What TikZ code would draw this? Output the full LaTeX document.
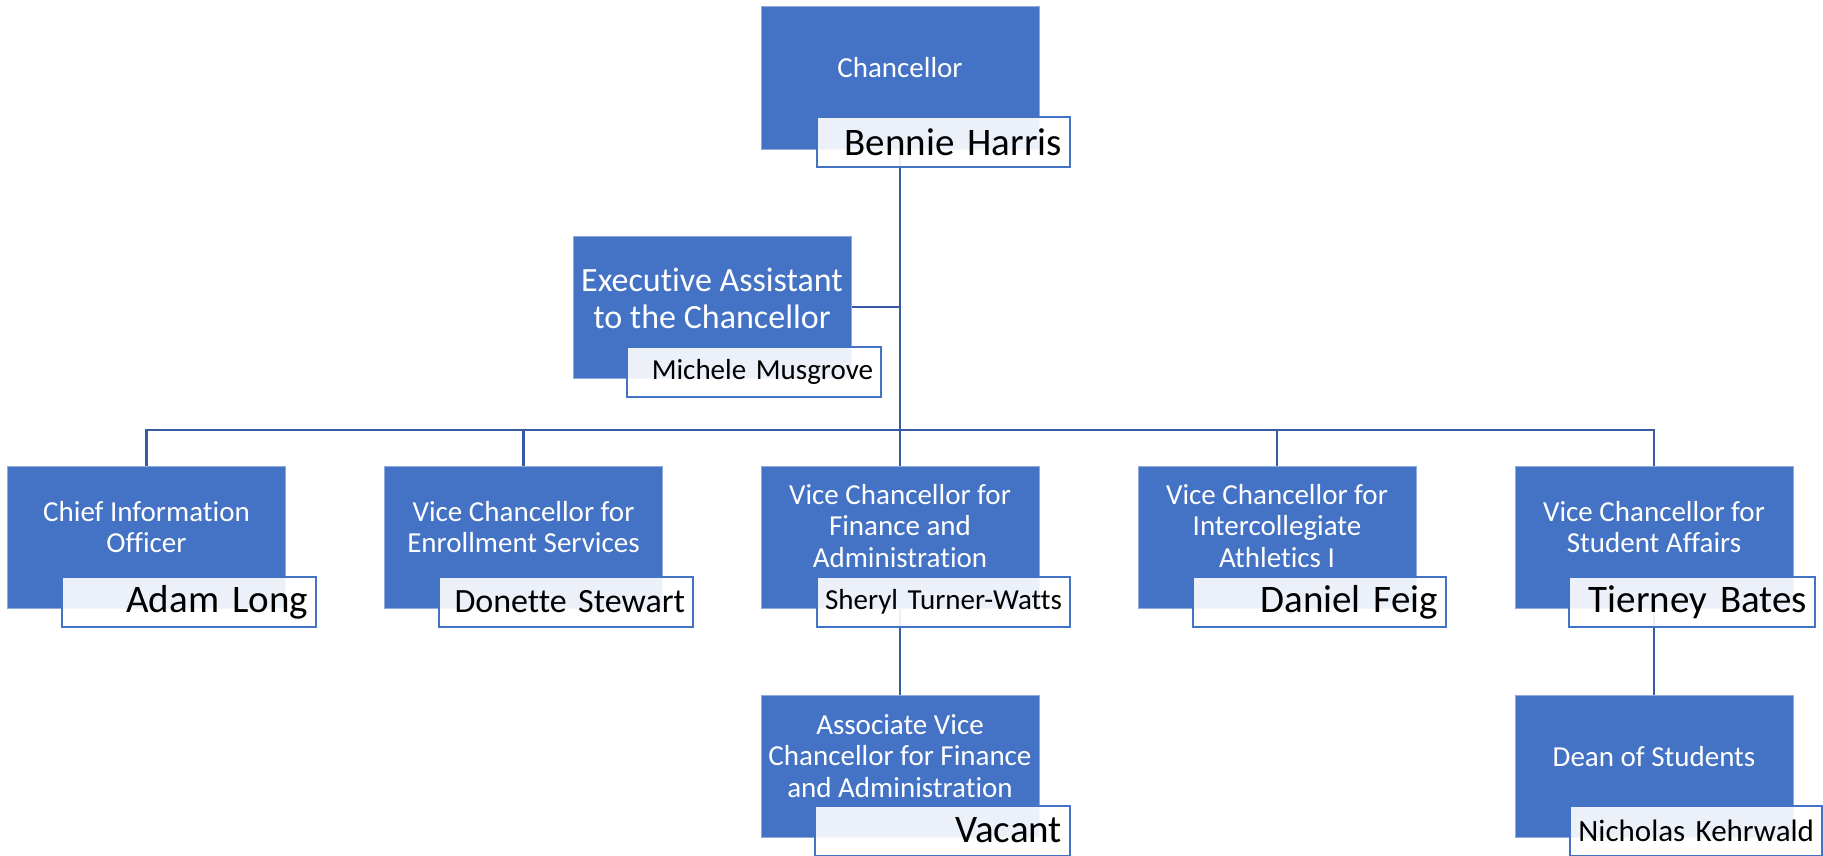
\documentclass[tikz,border=0pt]{standalone}
\usepackage{fontspec}
\setmainfont{Carlito}[Ligatures={NoCommon}]
\definecolor{unitblue}{RGB}{68,114,196}
\definecolor{linkblue}{RGB}{56,90,163}
\definecolor{unitedge}{RGB}{143,170,220}

\tikzset{every picture/.style={line width=0.75pt}}

\begin{document}
\begin{tikzpicture}[x=0.75pt,y=0.75pt,yscale=-1,xscale=1,
    unitbox/.style={draw=unitedge, fill=unitblue, minimum width=208.5pt, minimum height=106.5pt, inner sep=0pt},
    titletext/.style={text=white, align=center, inner sep=0.75pt, font=\fontsize{21.75pt}{23.6pt}\selectfont},
    namebox/.style={draw=unitblue, line width=1.5pt, fill=white, fill opacity=0.9, text opacity=1, text=black, minimum height=37.5pt, inner xsep=6pt, inner ysep=0pt, align=right, text width=#1, font=\fontsize{29.25pt}{31pt}\selectfont},
    link/.style={draw=linkblue, line width=2pt}]
        \useasboundingbox (0,0) rectangle (1823,856);

        %Shape: Rectangle [id:chancellor]
        \draw (900,78) node [unitbox] (chanbox) {};
        %Shape: Rectangle [id:assistant]
        \draw (712,307) node [unitbox] (exebox) {};
        %Shape: Rectangle [id:row2]
        \draw (146.5,537) node [unitbox] (ciobox) {};
        \draw (523.5,537) node [unitbox] (enrbox) {};
        \draw (900,537) node [unitbox] (finbox) {};
        \draw (1277,537) node [unitbox] (athbox) {};
        \draw (1654,537) node [unitbox] (stubox) {};
        %Shape: Rectangle [id:row3]
        \draw (900,766) node [unitbox] (avcbox) {};
        \draw (1654,766) node [unitbox] (deanbox) {};

        %Straight Lines [id:links]
        \coordinate (bus) at (900,430);
        \draw [link] (chanbox.south) -- (finbox.north);
        \draw [link] (exebox.east) -- (exebox.east -| chanbox.south);
        \draw [link] (ciobox.north) |- (bus) -| (stubox.north);
        \draw [link] (enrbox.north) -- (enrbox.north |- bus);
        \draw [link] (athbox.north) -- (athbox.north |- bus);
        \draw [link] (finbox.south) -- (avcbox.north);
        \draw [link] (stubox.south) -- (deanbox.north);

        % Text Node
        \draw (900,68) node [titletext] (chantitle) {Chancellor};
        % Text Node
        \draw (712,298) node [titletext, font=\fontsize{25.5pt}{27.75pt}\selectfont] (exetitle) {Executive Assistant\\to the Chancellor};
        % Text Node
        \draw (146.5,527) node [titletext] (ciotitle) {Chief Information\\Officer};
        % Text Node
        \draw (523.5,527) node [titletext] (enrtitle) {Vice Chancellor for\\Enrollment Services};
        % Text Node
        \draw (900,526) node [titletext] (fintitle) {Vice Chancellor for\\Finance and\\Administration};
        % Text Node
        \draw (1277,526) node [titletext] (athtitle) {Vice Chancellor for\\Intercollegiate\\Athletics I};
        % Text Node
        \draw (1654,527) node [titletext] (stutitle) {Vice Chancellor for\\Student Affairs};
        % Text Node
        \draw (900,756) node [titletext] (avctitle) {Associate Vice\\Chancellor for Finance\\and Administration};
        % Text Node
        \draw (1654,757) node [titletext] (deantitle) {Dean of Students};

        %Shape: Name Boxes
        \draw (943.5,142) node [namebox=177.75pt] (channame) {Bennie Harris};
        \draw (754,372) node [namebox=178.5pt, font=\fontsize{21.75pt}{23pt}\selectfont] (exename) {Michele Musgrove};
        \draw (189,602) node [namebox=178.5pt] (cioname) {Adam Long};
        \draw (566,602) node [namebox=178.5pt, font=\fontsize{25.5pt}{27pt}\selectfont] (enrname) {Donette Stewart};
        \draw (943.5,602) node [namebox=177.75pt, font=\fontsize{21.75pt}{23pt}\selectfont] (finname) {Sheryl Turner-Watts};
        \draw (1319.5,602) node [namebox=177.75pt] (athname) {Daniel Feig};
        \draw (1692,602) node [namebox=172.5pt] (stuname) {Tierney Bates};
        \draw (942.5,830.5) node [namebox=179.25pt] (avcname) {Vacant};
        \draw (1696,830.5) node [namebox=177pt, font=\fontsize{23.25pt}{25pt}\selectfont] (deanname) {Nicholas Kehrwald};

\end{tikzpicture}
\end{document}
